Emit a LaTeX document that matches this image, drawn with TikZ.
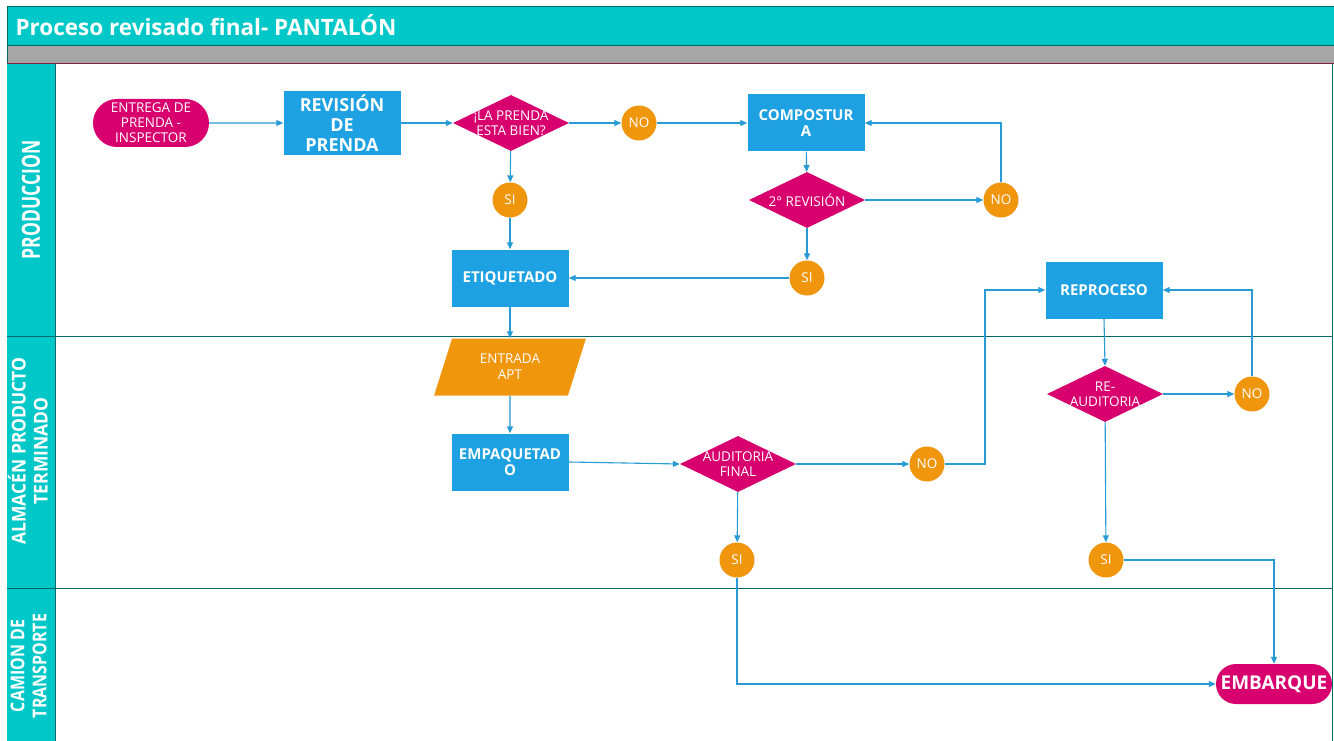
\documentclass[tikz,border=0pt]{standalone}
\usepackage{fontspec}
\setmainfont{Open Sans}
\usetikzlibrary{shapes.geometric,shapes.misc,arrows.meta}

\definecolor{turquesa}{RGB}{0,200,200}
\definecolor{bordeturq}{RGB}{0,105,105}
\definecolor{gris}{RGB}{166,166,166}
\definecolor{granate}{RGB}{128,30,70}
\definecolor{azul}{RGB}{29,161,226}
\definecolor{linea}{RGB}{40,155,215}
\definecolor{rosa}{RGB}{215,0,110}
\definecolor{naranja}{RGB}{240,150,12}

\tikzset{
  proceso/.style={rectangle, fill=azul, text=white, align=center,
    font=\bfseries\fontsize{15}{16.5}\selectfont,
    minimum width=117pt, minimum height=57pt, inner sep=1pt},
  decision/.style={diamond, fill=rosa, minimum width=116pt,
    minimum height=56pt, inner sep=0pt},
  textodec/.style={text=white, align=center, inner sep=0pt,
    font=\fontsize{13.5}{15}\selectfont},
  respuesta/.style={circle, fill=naranja, text=white, minimum size=35pt,
    inner sep=0pt, font=\fontsize{13.5}{14}\selectfont},
  terminal/.style={rounded rectangle, fill=rosa, text=white, align=center,
    minimum width=118pt, inner sep=1pt},
  flecha/.style={draw=linea, line width=1.1pt, ->},
  carril/.style={rotate=90, text=white, align=center}
}

\begin{document}
\begin{tikzpicture}[x=1pt, y=-1pt, >={Triangle[length=7pt, width=6pt]}]
  \useasboundingbox (0,0) rectangle (1334,741);

  % encabezado
  \fill[turquesa] (7,7) rectangle (1334,45);
  \fill[gris] (7,45) rectangle (1334,64);
  \draw[bordeturq, line width=1pt] (1334,7) -- (7,7) -- (7,741);
  \draw[bordeturq] (7,45) -- (1334,45);
  \draw[granate, line width=1pt] (7,64) -- (1334,64);
  \node[anchor=west, text=white, font=\bfseries\fontsize{22.5}{26}\selectfont] (titulo) at (12,25) {Proceso revisado final- PANTALÓN};

  % carriles
  \fill[turquesa] (7,64) rectangle (55,741);
  \draw[bordeturq] (55,64) -- (55,741);
  \draw[bordeturq, line width=1pt] (7,336) -- (1332,336);
  \draw[bordeturq, line width=1pt] (7,588) -- (1332,588);
  \draw[bordeturq] (1332,64) -- (1332,741);

  \node[carril, font=\bfseries\fontsize{25}{28}\selectfont] (produccion) at (31,200) {\scalebox{0.7}[1]{PRODUCCION}};
  \node[carril, font=\bfseries\fontsize{19}{22}\selectfont] (almacen) at (31,451) {\scalebox{0.92}[1]{\begin{tabular}{@{}c@{}}ALMACÉN PRODUCTO\\TERMINADO\end{tabular}}};
  \node[carril, font=\bfseries\fontsize{19}{22}\selectfont] (camion) at (31,666) {\scalebox{0.84}[1]{\begin{tabular}{@{}c@{}}CAMION DE\\TRANSPORTE\end{tabular}}};

  % produccion
  \node[terminal, minimum height=48pt, font=\fontsize{13.5}{15}\selectfont] (entrega) at (151,123) {ENTREGA DE\\PRENDA -\\INSPECTOR};
  \node[proceso, minimum height=64pt, font=\bfseries\fontsize{18}{20}\selectfont] (revision) at (342,123) {REVISIÓN\\DE\\PRENDA};
  \node[decision, label={[textodec]center:{¡LA PRENDA\\ESTA BIEN?}}] (pregunta) at (511,123) {};
  \node[respuesta] (no1) at (639,123) {NO};
  \node[respuesta] (si1) at (510,200) {SI};
  \node[proceso] (compostura) at (806,123) {COMPOSTUR\\A};
  \node[decision, label={[textodec]center:{2° REVISIÓN}}] (revision2) at (807,200) {};
  \node[respuesta] (no2) at (1001,200) {NO};
  \node[respuesta] (si2) at (807,278) {SI};
  \node[proceso] (etiquetado) at (510,278) {ETIQUETADO};
  \node[proceso] (reproceso) at (1104,290) {REPROCESO};

  % almacen
  \node[trapezium, trapezium left angle=70, trapezium right angle=110,
    trapezium stretches=true, fill=naranja, text=white, align=center,
    minimum width=153pt, minimum height=57pt, inner sep=0pt,
    font=\fontsize{13.5}{16}\selectfont] (entrada) at (510,367) {ENTRADA\\APT};
  \node[proceso] (empaquetado) at (510,462) {EMPAQUETAD\\O};
  \node[decision, label={[textodec]center:{AUDITORIA\\FINAL}}] (auditoria) at (738,464) {};
  \node[respuesta] (no3) at (927,464) {NO};
  \node[decision, label={[textodec]center:{RE-\\AUDITORIA}}] (reauditoria) at (1105,394) {};
  \node[respuesta] (no4) at (1252,394) {NO};
  \node[respuesta] (si3) at (737,560) {SI};
  \node[respuesta] (si4) at (1106,560) {SI};
  \coordinate (codo) at (985,464);

  % camion
  \node[terminal, minimum height=40pt, font=\bfseries\fontsize{19}{20}\selectfont] (embarque) at (1274,684) {EMBARQUE};

  % conexiones
  \draw[flecha] (entrega) -- (revision);
  \draw[flecha] (revision) -- (pregunta);
  \draw[flecha] (pregunta) -- (no1);
  \draw[flecha] (no1) -- (compostura);
  \draw[flecha] (pregunta) -- (si1);
  \draw[flecha] (si1) -- (etiquetado);
  \draw[flecha] (compostura) -- (revision2);
  \draw[flecha] (revision2) -- (no2);
  \draw[flecha] (no2.north) |- (compostura.east);
  \draw[flecha] (revision2) -- (si2);
  \draw[flecha] (si2) -- (etiquetado);
  \draw[flecha] (etiquetado) -- (entrada);
  \draw[flecha] (entrada) -- (empaquetado);
  \draw[flecha] (empaquetado.east) -- (auditoria.west);
  \draw[flecha] (auditoria) -- (no3);
  \draw[flecha] (no3.east) -- (codo) |- (reproceso.west);
  \draw[flecha] (reproceso.south) -- (reauditoria.north);
  \draw[flecha] (reauditoria) -- (no4);
  \draw[flecha] (no4.north) |- (reproceso.east);
  \draw[flecha] (reauditoria) -- (si4);
  \draw[flecha] (auditoria) -- (si3);
  \draw[flecha] (si4.east) -| (embarque.north);
  \draw[flecha] (si3.south) |- (embarque.west);
\end{tikzpicture}
\end{document}
